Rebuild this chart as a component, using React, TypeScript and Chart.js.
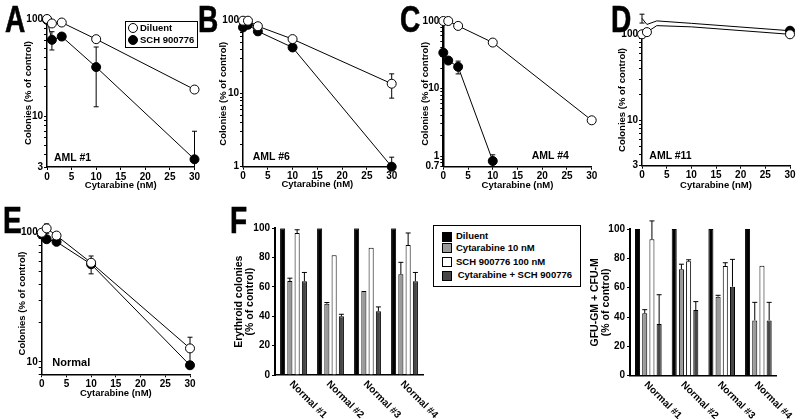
import React, { useEffect, useRef } from 'react';
import { Chart, registerables } from 'chart.js';

Chart.register(...registerables);

const FONT = "'Liberation Sans', Arial, Helvetica, sans-serif";

// ---------- data ----------
const doses = [0, 1, 3, 10, 30];

// Panel A (AML #1)
const dilA = [100, 90, 92, 62, 18.8];
const dilA_sd = [0, 0, 0, 0, 0];
const schA = [98, 61, 66, 32, 3.6];
const schA_sd = [0, 13, 5, 19.5, 3.4];
const yLabA = [3, 10, 100];

// Panel B (AML #6)
const dilB = [100, 100, 84, 56, 13.7];
const dilB_sd = [0, 0, 0, 0, 5];
const schB = [81, 88, 71.5, 43, 1];
const schB_sd = [0, 0, 8, 0, 0.35];
const yLabB = [1, 10, 100];

// Panel C (AML #4)
const dilC = [100, 100, 84.6, 48, 3.4];
const dilC_sd = [0, 0, 0, 0, 0];
const schC = [34, 26, 21, 0.85, null];
const schC_sd = [0, 0, 4.5, 0.2, 0];
const yLabC = [0.7, 1, 10, 100];

// Panel D (AML #11)
const dilD = [100, 106, 126, 122, 100];
const dilD_sd = [0, 0, 0, 0, 0];
const schD = [153, 130, 143, 134, 110];
const schD_sd = [18, 0, 0, 0, 0];
const yLabD = [3, 10, 100];

// Panel E (Normal)
const dilE = [100, 108, 95, 58.5, 12.7];
const dilE_sd = [0, 9, 0, 0, 2.8];
const schE = [97, 89, 85, 57, 9.4];
const schE_sd = [0, 0, 5, 9, 0];
const yLabE = [10, 100];

// Panel F
const fLabels = ['Normal #1', 'Normal #2', 'Normal #3', 'Normal #4'];
const fSeries = ['Diluent', 'Cytarabine 10 nM', 'SCH 900776 100 nM', 'Cytarabine + SCH 900776'];
const eryDil = [100, 100, 100, 100];
const eryCyt = [64, 48.6, 57.3, 68.6];
const eryCyt_sd = [2, 0.8, 0, 8.2];
const erySch = [96.8, 81.6, 86.8, 88.6];
const erySch_sd = [2.2, 0, 0, 8.2];
const eryCombo = [63.9, 40, 43.4, 63.9];
const eryCombo_sd = [6, 1.4, 3, 6];

const gmDil = [100, 100, 100, 100];
const gmCyt = [42.5, 72.5, 53.9, 37.7];
const gmCyt_sd = [2.5, 3.5, 0.9, 12.3];
const gmSch = [93, 78, 74.8, 75];
const gmSch_sd = [12.5, 1, 2.2, 0];
const gmCombo = [35.2, 44.8, 60.7, 37.7];
const gmCombo_sd = [20, 5.7, 18.6, 12.3];

const barColors = ['#000000', '#9a9a9a', '#ffffff', '#474747'];

// ---------- helpers ----------
function logTickValues(min: number, max: number) {
  const out: number[] = [];
  for (let e = Math.floor(Math.log10(min)) - 1; e <= Math.ceil(Math.log10(max)); e++) {
    for (let m = 1; m < 10; m++) {
      const v = +(m * Math.pow(10, e)).toPrecision(6);
      if (v >= min - 1e-9 && v <= max + 1e-9) out.push(v);
    }
  }
  return out;
}

type Area = { l: number; t: number; r: number; b: number };

function fitLayout(W: number, H: number, area: Area, yTitleX: number, yLH: number, xTitleY: number | null, xLH: number) {
  const pl = yTitleX - yLH / 2;
  const yw = area.l - pl;
  const xh = xTitleY == null ? 40 : xTitleY + xLH / 2 - area.b;
  const pb = H - area.b - xh;
  return { padding: { left: pl, top: area.t, right: W - area.r, bottom: pb }, yw, xh };
}

function drawErr(chart: any, upOnly: boolean) {
  const { ctx, chartArea } = chart;
  const ys = chart.scales.y;
  const cap = 2.5;
  ctx.save();
  ctx.beginPath();
  ctx.rect(0, 0, chart.width, chartArea.bottom + 0.5);
  ctx.clip();
  ctx.strokeStyle = '#000';
  ctx.lineWidth = 1;
  chart.data.datasets.forEach((ds: any, di: number) => {
    const sd = ds.sd as number[] | undefined;
    if (!sd) return;
    const meta = chart.getDatasetMeta(di);
    meta.data.forEach((el: any, i: number) => {
      const s = sd[i];
      if (!s) return;
      const raw = ds.data[i];
      const v = typeof raw === 'number' ? raw : raw.y;
      const x = el.x;
      const yHi = ys.getPixelForValue(v + s);
      const yLo = upOnly ? ys.getPixelForValue(v) : v - s > 0 ? ys.getPixelForValue(v - s) : chartArea.bottom + 20;
      ctx.beginPath();
      ctx.moveTo(x, yHi);
      ctx.lineTo(x, yLo);
      ctx.moveTo(x - cap, yHi);
      ctx.lineTo(x + cap, yHi);
      if (!upOnly) {
        ctx.moveTo(x - cap, yLo);
        ctx.lineTo(x + cap, yLo);
      }
      ctx.stroke();
    });
  });
  ctx.restore();
}

const errorBarPlugin = {
  id: 'errorBars',
  beforeDatasetsDraw(chart: any) {
    if (chart.config.type === 'line') drawErr(chart, false);
  },
  afterDatasetsDraw(chart: any) {
    if (chart.config.type === 'bar') drawErr(chart, true);
  },
};

const rotatedLabelPlugin = {
  id: 'rotLabels',
  afterDraw(chart: any) {
    const xs = chart.scales.x;
    const ctx = chart.ctx;
    ctx.save();
    ctx.font = `bold 10px ${FONT}`;
    ctx.fillStyle = '#000';
    ctx.textAlign = 'left';
    ctx.textBaseline = 'top';
    (chart.data.labels as string[]).forEach((lab, i) => {
      const x = xs.getPixelForValue(i);
      ctx.save();
      ctx.translate(x + 1, xs.top + 4);
      ctx.rotate(Math.PI / 4);
      ctx.fillText(lab, 0, 0);
      ctx.restore();
    });
    ctx.restore();
  },
};

const tickFont = { family: FONT, size: 10, weight: 'bold' as const };
const titleFont = { family: FONT, size: 9.5, weight: 'bold' as const, lineHeight: 1.2 };

function series(vals: (number | null)[], sd: number[]) {
  const pts = doses.map((x, i) => ({ x, y: vals[i], sd: sd[i] })).filter((p) => p.y != null);
  return { data: pts.map((p) => ({ x: p.x, y: p.y as number })), sd: pts.map((p) => p.sd) };
}

function linePanel(p: {
  W: number; H: number; area: Area; yTitleX: number; xTitleY: number;
  yMin: number; yMax: number; yLabels: number[]; yBorder?: number;
  dil: (number | null)[]; dilSd: number[]; sch: (number | null)[]; schSd: number[];
}) {
  const lay = fitLayout(p.W, p.H, p.area, p.yTitleX, 9.5 * 1.2, p.xTitleY, 9.5 * 1.2);
  const d = series(p.dil, p.dilSd);
  const s = series(p.sch, p.schSd);
  const base = {
    borderColor: '#000', borderWidth: 1, pointRadius: 4.5, pointBorderWidth: 1,
    pointBorderColor: '#000', clip: false as any, tension: 0,
  };
  return () => ({
    type: 'line' as const,
    data: {
      datasets: [
        { ...base, label: 'Diluent', data: d.data, sd: d.sd, pointBackgroundColor: '#fff', backgroundColor: '#fff' },
        { ...base, label: 'SCH 900776', data: s.data, sd: s.sd, pointBackgroundColor: '#000', backgroundColor: '#000' },
      ],
    },
    options: {
      animation: false as const,
      responsive: false,
      events: [] as any[],
      layout: { padding: lay.padding },
      plugins: { legend: { display: false }, tooltip: { enabled: false } },
      scales: {
        x: {
          type: 'linear' as const, min: 0, max: 30,
          ticks: { stepSize: 5, font: tickFont, color: '#000', padding: 1, maxRotation: 0, autoSkip: false },
          grid: { display: true, drawOnChartArea: false, drawTicks: true, tickLength: 3, color: '#000', lineWidth: 1 },
          border: { display: true, color: '#000', width: 1.5 },
          title: { display: true, text: 'Cytarabine (nM)', font: titleFont, color: '#000', padding: 0 },
          afterFit: (sc: any) => { sc.height = lay.xh; sc.paddingLeft = 0; sc.paddingRight = 0; },
        },
        y: {
          type: 'logarithmic' as const, min: p.yMin, max: p.yMax,
          afterBuildTicks: (sc: any) => { sc.ticks = logTickValues(p.yMin, p.yMax).map((v) => ({ value: v })); },
          ticks: {
            autoSkip: false, font: tickFont, color: '#000', padding: 1,
            callback: (v: any) => (p.yLabels.some((l) => Math.abs(l - v) < 1e-9) ? String(v) : ''),
          },
          grid: { display: true, drawOnChartArea: false, drawTicks: true, tickLength: 3, color: '#000', lineWidth: 1 },
          border: { display: true, color: '#000', width: p.yBorder ?? 1.5 },
          title: { display: true, text: 'Colonies (% of control)', font: titleFont, color: '#000', padding: 0 },
          afterFit: (sc: any) => { sc.width = lay.yw; sc.paddingTop = 0; sc.paddingBottom = 0; },
        },
      },
    },
    plugins: [errorBarPlugin],
  });
}

function barPanel(p: {
  W: number; H: number; area: Area; yTitleX: number; title: string[];
  vals: number[][]; sds: (number[] | null)[];
}) {
  const lh = 10.5 * 1.1;
  const lay = fitLayout(p.W, p.H, p.area, p.yTitleX, lh, null, 0);
  return () => ({
    type: 'bar' as const,
    data: {
      labels: fLabels,
      datasets: p.vals.map((v, i) => ({
        label: fSeries[i], data: v, sd: p.sds[i] || undefined,
        backgroundColor: barColors[i], borderColor: '#000', borderWidth: 1,
        categoryPercentage: 0.785, barPercentage: 0.7,
      })),
    },
    options: {
      animation: false as const,
      responsive: false,
      events: [] as any[],
      layout: { padding: lay.padding },
      plugins: { legend: { display: false }, tooltip: { enabled: false } },
      scales: {
        x: {
          type: 'category' as const,
          ticks: { display: false },
          grid: { display: false },
          border: { display: true, color: '#000', width: 1.5 },
          afterFit: (sc: any) => { sc.height = lay.xh; sc.paddingLeft = 0; sc.paddingRight = 0; },
        },
        y: {
          min: 0, max: 100,
          ticks: { stepSize: 20, font: tickFont, color: '#000', padding: 2 },
          grid: { display: true, drawOnChartArea: false, drawTicks: true, tickLength: 3, color: '#000', lineWidth: 1 },
          border: { display: true, color: '#000', width: 2 },
          title: { display: true, text: p.title, font: { family: FONT, size: 10.5, weight: 'bold' as const, lineHeight: 1.1 }, color: '#000', padding: 0 },
          afterFit: (sc: any) => { sc.width = lay.yw; sc.paddingTop = 0; sc.paddingBottom = 0; },
        },
      },
    },
    plugins: [errorBarPlugin, rotatedLabelPlugin],
  });
}

// ---------- components ----------
function ChartBox({ left, top, width, height, make }: { left: number; top: number; width: number; height: number; make: () => any }) {
  const ref = useRef<HTMLCanvasElement>(null);
  useEffect(() => {
    const c = new Chart(ref.current as HTMLCanvasElement, make());
    return () => c.destroy();
  }, []);
  return <canvas ref={ref} width={width} height={height} style={{ position: 'absolute', left, top, width, height }} />;
}

function Letter({ ch, x, capTop }: { ch: string; x: number; capTop: number }) {
  const fs = 36;
  return (
    <div style={{ position: 'absolute', left: x, top: capTop - 0.1305 * fs, fontSize: fs, lineHeight: `${fs}px`, fontWeight: 'bold', transform: 'scaleX(0.78)', transformOrigin: 'left top', WebkitTextStroke: '0.6px #000', whiteSpace: 'nowrap' }}>
      {ch}
    </div>
  );
}

function Label({ text, x, baseline, size = 10.5 }: { text: string; x: number; baseline: number; size?: number }) {
  return (
    <div style={{ position: 'absolute', left: x, top: baseline - 0.8465 * size, fontSize: size, lineHeight: `${size}px`, fontWeight: 'bold', whiteSpace: 'nowrap' }}>
      {text}
    </div>
  );
}

const mkA = linePanel({ W: 200, H: 200, area: { l: 47, t: 19, r: 195, b: 167 }, yTitleX: 28, xTitleY: 185.5, yMin: 3, yMax: 100, yLabels: yLabA, dil: dilA, dilSd: dilA_sd, sch: schA, schSd: schA_sd });
const mkB = linePanel({ W: 200, H: 200, area: { l: 43, t: 20.7, r: 191.7, b: 166.7 }, yTitleX: 23, xTitleY: 184.5, yMin: 1, yMax: 100, yLabels: yLabB, dil: dilB, dilSd: dilB_sd, sch: schB, schSd: schB_sd });
const mkC = linePanel({ W: 200, H: 200, area: { l: 43.3, t: 21, r: 191.7, b: 166.7 }, yTitleX: 25, xTitleY: 185, yMin: 0.7, yMax: 100, yLabels: yLabC, yBorder: 2.5, dil: dilC, dilSd: dilC_sd, sch: schC, schSd: schC_sd });
const mkD = linePanel({ W: 200, H: 200, area: { l: 42, t: 34.3, r: 190, b: 165.7 }, yTitleX: 22.5, xTitleY: 185, yMin: 3, yMax: 100, yLabels: yLabD, dil: dilD, dilSd: dilD_sd, sch: schD, schSd: schD_sd });
const mkE = linePanel({ W: 200, H: 209, area: { l: 41.7, t: 22.7, r: 190, b: 164.3 }, yTitleX: 22, xTitleY: 183.3, yMin: 8, yMax: 100, yLabels: yLabE, dil: dilE, dilSd: dilE_sd, sch: schE, schSd: schE_sd });
const mkF1 = barPanel({ W: 250, H: 209, area: { l: 75, t: 18.3, r: 223, b: 165 }, yTitleX: 39, title: ['Erythroid colonies', '(% of control)'], vals: [eryDil, eryCyt, erySch, eryCombo], sds: [null, eryCyt_sd, erySch_sd, eryCombo_sd] });
const mkF2 = barPanel({ W: 220, H: 209, area: { l: 50, t: 19, r: 196.7, b: 165.7 }, yTitleX: 14.7, title: ['GFU-GM + CFU-M', '(% of control)'], vals: [gmDil, gmCyt, gmSch, gmCombo], sds: [null, gmCyt_sd, gmSch_sd, gmCombo_sd] });

const circle = (fill: string, x: number, y: number) => (
  <div style={{ position: 'absolute', left: x - 5, top: y - 5, width: 8, height: 8, borderRadius: '50%', border: '1px solid #000', background: fill }} />
);
const square = (fill: string, x: number, y: number) => (
  <div style={{ position: 'absolute', left: x, top: y, width: 8, height: 8, border: '1px solid #000', background: fill }} />
);

export default function App() {
  useEffect(() => {
    document.body.style.margin = '0';
  }, []);
  return (
    <div style={{ position: 'fixed', left: 0, top: 0, width: 800, height: 419, background: '#fff', overflow: 'hidden', fontFamily: FONT, color: '#000' }}>
      <ChartBox left={0} top={0} width={200} height={200} make={mkA} />
      <ChartBox left={200} top={0} width={200} height={200} make={mkB} />
      <ChartBox left={400} top={0} width={200} height={200} make={mkC} />
      <ChartBox left={600} top={0} width={200} height={200} make={mkD} />
      <ChartBox left={0} top={210} width={200} height={209} make={mkE} />
      <ChartBox left={200} top={210} width={250} height={209} make={mkF1} />
      <ChartBox left={580} top={210} width={220} height={209} make={mkF2} />

      <Letter ch="A" x={5} capTop={7} />
      <Letter ch="B" x={198} capTop={7} />
      <Letter ch="C" x={400} capTop={7} />
      <Letter ch="D" x={611} capTop={7} />
      <Letter ch="E" x={3} capTop={208} />
      <Letter ch="F" x={230} capTop={208} />

      <Label text="AML #1" x={54} baseline={160.5} />
      <Label text="AML #6" x={252.7} baseline={160} />
      <Label text="AML #4" x={531.7} baseline={159.3} />
      <Label text="AML #11" x={649.3} baseline={159.3} />
      <Label text="Normal" x={52.3} baseline={366.7} size={11} />

      {/* Legend A */}
      <div style={{ position: 'absolute', left: 125, top: 21, width: 71, height: 25, border: '1px solid #000', background: '#fff' }} />
      {circle('#fff', 133.3, 27.7)}
      {circle('#000', 132.7, 40)}
      <Label text="Diluent" x={140} baseline={30.7} size={9.5} />
      <Label text="SCH 900776" x={140} baseline={42.7} size={9.5} />

      {/* Legend F */}
      <div style={{ position: 'absolute', left: 433, top: 225, width: 146, height: 60, border: '1px solid #000', background: '#fff' }} />
      {square(barColors[0], 441.7, 231.7)}
      {square(barColors[1], 441.7, 243.3)}
      {square(barColors[2], 441.7, 256.7)}
      {square(barColors[3], 441.7, 271)}
      <Label text={fSeries[0]} x={456} baseline={239.3} size={9.5} />
      <Label text={fSeries[1]} x={456} baseline={251} size={9.5} />
      <Label text={fSeries[2]} x={456} baseline={264.7} size={9.5} />
      <Label text={fSeries[3]} x={457.7} baseline={278} size={9.5} />
    </div>
  );
}
